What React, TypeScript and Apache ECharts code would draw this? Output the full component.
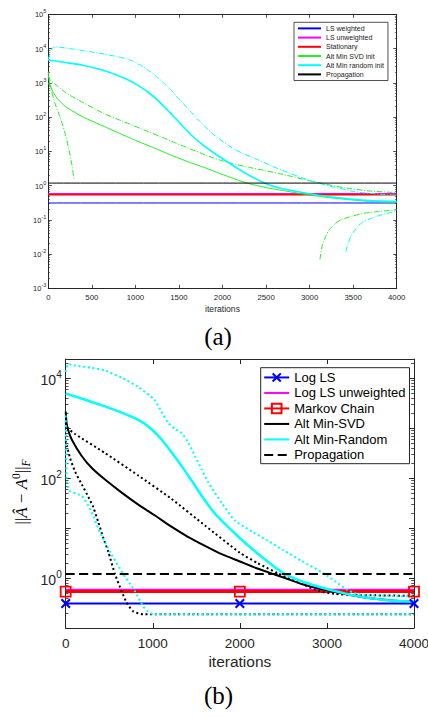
import React, { useEffect, useRef } from 'react';
import * as echarts from 'echarts';

// ---------- chart (a) data: [iteration, error] ----------
const aLsWeighted = [[0, 0.31], [4000, 0.31]];
const aLsUnweighted = [[0, 0.58], [4000, 0.58]];
const aStationary = [[0, 0.535], [4000, 0.535]];
const aPropagation = [[0, 1.18], [4000, 1.18]];
const aSvdSolid = [[0, 2100], [15, 1000], [50, 560], [100, 355], [200, 200], [400, 100], [600, 59], [800, 35], [1000, 21], [1200, 13], [1400, 7.9], [1600, 5.0], [1800, 3.3], [2000, 2.1], [2285, 1.17], [2500, 0.87], [2700, 0.71], [2935, 0.56], [3242, 0.44], [3624, 0.355], [4000, 0.32]];
const aSvdDashDot = [[0, 1600], [20, 1200], [100, 830], [211, 490], [400, 265], [632, 129], [850, 76], [1053, 47], [1270, 28], [1474, 17], [1600, 12.6], [1700, 10], [1800, 7.9], [1902, 6.3], [2000, 5.25], [2100, 4.47], [2300, 3.43], [2500, 2.7], [2700, 2.1], [3000, 1.38], [3200, 1.08], [3400, 0.86], [3700, 0.69], [4000, 0.62]];
const aSvdFast = [[0, 1000], [20, 780], [77, 250], [134, 102], [192, 34], [230, 13.5], [268, 4.5], [296, 1.45]];
const aSvdRise = [[3119, 0.007], [3146, 0.018], [3185, 0.033], [3223, 0.05], [3290, 0.075], [3357, 0.1], [3500, 0.13], [3624, 0.155], [3800, 0.176], [4000, 0.195]];
const aRandSolid = [[0, 4650], [200, 3900], [402, 3250], [600, 2450], [785, 1700], [920, 1200], [1053, 770], [1170, 479], [1282, 269], [1400, 132], [1512, 66], [1630, 32], [1741, 18], [1902, 8.9], [2143, 3.55], [2300, 2.04], [2487, 1.17], [2650, 0.85], [2870, 0.66], [3253, 0.46], [3636, 0.37], [4000, 0.34]];
const aRandDashDot = [[0, 4500], [30, 9000], [77, 11200], [300, 9500], [594, 7250], [800, 5750], [900, 5000], [976, 4270], [1100, 2820], [1244, 1510], [1380, 724], [1512, 316], [1630, 148], [1741, 74], [1902, 30], [2150, 11], [2411, 5.56], [2680, 2.82], [2985, 1.45], [3177, 1.05], [3520, 0.66], [3800, 0.56], [4000, 0.525]];
const aRandRise = [[3415, 0.0117], [3440, 0.02], [3472, 0.032], [3548, 0.063], [3620, 0.088], [3702, 0.11], [3850, 0.145], [4000, 0.18]];

// ---------- chart (b) data ----------
const bLogLs = [[0, 0.31], [2000, 0.31], [4000, 0.31]];
const bLogLsUnweighted = [[0, 0.58], [4000, 0.58]];
const bMarkov = [[0, 0.535], [2000, 0.535], [4000, 0.535]];
const bPropagation = [[0, 1.2], [4000, 1.2]];
const bSvdSolid = [[0, 2140], [10, 1260], [30, 890], [69, 590], [184, 275], [300, 158], [451, 93], [643, 51], [850, 28], [1025, 17.8], [1200, 11], [1408, 6.6], [1600, 4.4], [1791, 3.0], [2000, 2.14], [2200, 1.55], [2384, 1.2], [2550, 0.955], [2710, 0.76], [2900, 0.62], [3093, 0.525], [3300, 0.447], [3475, 0.4], [3750, 0.355], [4000, 0.33]];
const bSvdDotUpper = [[0, 1260], [20, 1000], [107, 760], [451, 316], [834, 112], [1217, 38], [1600, 11.2], [2000, 3.2], [2200, 2.0], [2441, 1.23], [2600, 0.91], [2728, 0.74], [2850, 0.6], [2950, 0.525], [3093, 0.48], [3300, 0.457], [4000, 0.44]];
const bSvdDotLower = [[0, 560], [50, 250], [107, 135], [184, 75], [260, 42], [317, 26], [375, 13], [430, 6.5], [490, 3.3], [566, 1.2], [643, 0.54], [700, 0.32], [776, 0.215], [891, 0.188], [4000, 0.188]];
const bRandSolid = [[0, 4900], [200, 3800], [451, 2700], [650, 2000], [834, 1450], [970, 1000], [1102, 590], [1220, 320], [1332, 173], [1450, 87], [1562, 44], [1680, 23], [1791, 14], [2002, 6.25], [2250, 2.65], [2498, 1.26], [2700, 0.87], [2900, 0.676], [3285, 0.454], [3667, 0.363], [4000, 0.336]];
const bRandDotUpper = [[0, 13200], [30, 19000], [107, 17800], [300, 16000], [451, 14100], [650, 10000], [834, 6600], [1025, 3600], [1100, 2100], [1178, 1260], [1260, 950], [1332, 790], [1410, 500], [1485, 275], [1560, 150], [1638, 81], [1791, 32], [1944, 14], [2150, 8.3], [2327, 5.5], [2500, 3.6], [2710, 2.2], [2966, 1.23], [3100, 0.85], [3234, 0.58], [3350, 0.48], [3475, 0.45], [4000, 0.43]];
const bRandDotLower = [[0, 2000], [6, 300], [14, 80], [49, 55], [184, 44], [260, 28], [320, 17], [375, 9.6], [450, 5.2], [528, 2.9], [600, 1.8], [661, 1.2], [730, 0.8], [796, 0.54], [891, 0.27], [950, 0.21], [1006, 0.188], [4000, 0.188]];

const legendA = ['LS weighted', 'LS unweighted', 'Stationary', 'Alt Min SVD init', 'Alt Min random init', 'Propagation'];
const legendB = ['Log LS', 'Log LS unweighted', 'Markov Chain', 'Alt Min-SVD', 'Alt Min-Random', 'Propagation (b)'];

const AXIS = '#262626';
const SANS = '"Liberation Sans", Arial, Helvetica, sans-serif';
const SERIF = '"Liberation Serif", "Times New Roman", serif';
const BLUE = '#0000ff';
const MAGENTA = '#ff00ff';
const RED = '#ff0000';
const GREEN = '#22ee22';
const CYAN = '#00ffff';
const BLACK = '#000000';

const DASHDOT = [5.5, 1.8, 1, 1.8];
const DOTTED = [2, 2.7];
const DASHED = [9, 4.5];
const X_MARK = 'path://M1.5,0 L5,3.5 L8.5,0 L10,1.5 L6.5,5 L10,8.5 L8.5,10 L5,6.5 L1.5,10 L0,8.5 L3.5,5 L0,1.5 Z';

function decadeFormatter(everyOther: boolean) {
  return (v: number) => {
    const e = Math.log10(v);
    const r = Math.round(e);
    if (Math.abs(e - r) > 1e-6) return '';
    if (everyOther && r % 2 !== 0) return '';
    return `{b|10}{s|${r}}`;
  };
}

function yAxis(grid: number, pos: 'left' | 'right', min: number, max: number, labels: boolean, big: boolean) {
  return {
    type: 'log', logBase: 10, gridIndex: grid, position: pos, min, max,
    axisLine: { show: true, onZero: false, lineStyle: { color: AXIS, width: 1 } },
    axisTick: { show: true, inside: true, length: big ? 5 : 3.5, lineStyle: { color: AXIS, width: big ? 1 : 0.8 } },
    minorTick: { show: true, splitNumber: 9, length: big ? 2.8 : 1.8, lineStyle: { color: AXIS, width: big ? 0.8 : 0.6 } },
    splitLine: { show: false },
    minorSplitLine: { show: false },
    axisLabel: labels
      ? {
          show: true,
          formatter: decadeFormatter(big),
          margin: big ? 4 : 2,
          padding: big ? [4, 0, 0, 0] : [1, 0, 0, 0],
          rich: big
            ? {
                b: { fontSize: 14, fontFamily: SANS, color: AXIS, lineHeight: 22, verticalAlign: 'middle' },
                s: { fontSize: 10, fontFamily: SANS, color: AXIS, lineHeight: 10, verticalAlign: 'top' },
              }
            : {
                b: { fontSize: 7.5, fontFamily: SANS, color: AXIS, lineHeight: 13, verticalAlign: 'middle' },
                s: { fontSize: 5.5, fontFamily: SANS, color: AXIS, lineHeight: 6, verticalAlign: 'top' },
              },
        }
      : { show: false },
  };
}

function xAxis(grid: number, pos: 'top' | 'bottom', interval: number, labels: boolean, big: boolean) {
  return {
    type: 'value', gridIndex: grid, position: pos, min: 0, max: 4000, interval,
    axisLine: { show: true, onZero: false, lineStyle: { color: AXIS, width: 1 } },
    axisTick: { show: true, inside: true, length: big ? 5 : 3.5, lineStyle: { color: AXIS, width: big ? 1 : 0.8 } },
    splitLine: { show: false },
    axisLabel: labels
      ? { show: true, formatter: (v: number) => String(v), fontSize: big ? 13.5 : 7.8, fontFamily: SANS, color: AXIS, margin: big ? 8 : 5 }
      : { show: false },
    name: labels ? 'iterations' : '',
    nameLocation: 'middle',
    nameGap: big ? 25 : 16,
    nameTextStyle: { fontSize: big ? 15.5 : 8.6, fontFamily: SANS, color: AXIS },
  };
}

function line(name: string, data: number[][], color: string, width: number, type: any, idx: number, extra: any = {}) {
  return {
    type: 'line', name, data, xAxisIndex: idx, yAxisIndex: idx,
    symbol: 'none', showSymbol: false, smooth: 0.2,
    lineStyle: { color, width, type, cap: 'butt' },
    itemStyle: { color },
    emphasis: { disabled: true },
    silent: true,
    ...extra,
  };
}

function buildOption() {
  const series = [
    // (a)
    line('LS weighted', aLsWeighted, BLUE, 1, 'solid', 0),
    line('LS unweighted', aLsUnweighted, MAGENTA, 1.5, 'solid', 0),
    line('Stationary', aStationary, RED, 1.5, 'solid', 0),
    line('Alt Min SVD init', aSvdSolid, GREEN, 1, 'solid', 0),
    line('Alt Min SVD init (slow)', aSvdDashDot, GREEN, 1, DASHDOT, 0),
    line('Alt Min SVD init (fast)', aSvdFast, GREEN, 1, DASHDOT, 0),
    line('Alt Min SVD init (rise)', aSvdRise, GREEN, 1, DASHDOT, 0),
    line('Alt Min random init', aRandSolid, CYAN, 1.6, 'solid', 0),
    line('Alt Min random init (dash)', aRandDashDot, CYAN, 1, DASHDOT, 0),
    line('Alt Min random init (rise)', aRandRise, CYAN, 1, DASHDOT, 0),
    line('Propagation', aPropagation, BLACK, 1, 'solid', 0),
    // (b)
    line('Log LS', bLogLs, BLUE, 2, 'solid', 2, {
      symbol: X_MARK, showSymbol: true, symbolSize: 10,
      itemStyle: { color: BLUE },
    }),
    line('Log LS unweighted', bLogLsUnweighted, MAGENTA, 2, 'solid', 2),
    line('Markov Chain', bMarkov, RED, 3, 'solid', 2, {
      symbol: 'rect', showSymbol: true, symbolSize: 10,
      itemStyle: { color: 'rgba(255,255,255,0)', borderColor: RED, borderWidth: 1.8 },
    }),
    line('Alt Min-SVD', bSvdSolid, BLACK, 2, 'solid', 2),
    line('Alt Min-SVD (dot upper)', bSvdDotUpper, BLACK, 2, DOTTED, 2),
    line('Alt Min-SVD (dot lower)', bSvdDotLower, BLACK, 2, DOTTED, 2),
    line('Alt Min-Random', bRandSolid, CYAN, 2.5, 'solid', 2),
    line('Alt Min-Random (dot upper)', bRandDotUpper, CYAN, 2, DOTTED, 2),
    line('Alt Min-Random (dot lower)', bRandDotLower, CYAN, 2, DOTTED, 2, { lineStyle: { color: CYAN, width: 2, type: DOTTED, cap: 'butt', dashOffset: 2.3 } }),
    line('Propagation (b)', bPropagation, BLACK, 2, DASHED, 2),
  ];

  const noSymbolA = legendA.map((n) => ({ name: n, itemStyle: { opacity: 0 } }));
  const dataB = legendB.map((n) =>
    n === 'Log LS' || n === 'Markov Chain' ? { name: n } : { name: n, itemStyle: { opacity: 0 } }
  );

  return {
    animation: false,
    backgroundColor: '#ffffff',
    grid: [
      { left: 48.3, top: 14.3, width: 348.4, height: 274, containLabel: false, outerBoundsMode: 'none' },
      { left: 65.7, top: 359, width: 348.3, height: 269, containLabel: false, outerBoundsMode: 'none' },
    ],
    xAxis: [
      xAxis(0, 'bottom', 500, true, false),
      xAxis(0, 'top', 500, false, false),
      xAxis(1, 'bottom', 1000, true, true),
      xAxis(1, 'top', 1000, false, true),
    ],
    yAxis: [
      yAxis(0, 'left', 1e-3, 1e5, true, false),
      yAxis(0, 'right', 1e-3, 1e5, false, false),
      yAxis(1, 'left', 0.1, 24000, true, true),
      yAxis(1, 'right', 0.1, 24000, false, true),
    ],
    legend: [
      {
        data: noSymbolA,
        orient: 'vertical', left: 294, top: 22.3,
        itemWidth: 23, itemHeight: 8, itemGap: 0,
        padding: [1.5, 4, 1.5, 3],
        borderColor: AXIS, borderWidth: 0.8, backgroundColor: '#ffffff',
        selectedMode: false,
        textStyle: { fontSize: 7, lineHeight: 9.2, fontFamily: SANS, color: '#1a1a1a' },
      },
      {
        data: dataB,
        orient: 'vertical', left: 260.7, top: 367.7,
        itemWidth: 25, itemHeight: 12, itemGap: 0,
        padding: [2, 4, 1, 2.5],
        borderColor: AXIS, borderWidth: 1, backgroundColor: '#ffffff',
        selectedMode: false,
        formatter: (n: string) => (n === 'Propagation (b)' ? 'Propagation' : n),
        textStyle: { fontSize: 13, lineHeight: 15.5, fontFamily: SANS, color: '#000000' },
      },
    ],
    graphic: [
      {
        type: 'text', x: 218, y: 336, silent: true,
        style: { text: '(a)', fontSize: 25, fontFamily: SERIF, fill: '#000', align: 'center', verticalAlign: 'middle', textAlign: 'center', textVerticalAlign: 'middle' },
      },
      {
        type: 'text', x: 218.5, y: 695, silent: true,
        style: { text: '(b)', fontSize: 25, fontFamily: SERIF, fill: '#000', align: 'center', verticalAlign: 'middle', textAlign: 'center', textVerticalAlign: 'middle' },
      },
      {
        type: 'text', x: 21, y: 492, rotation: Math.PI / 2, silent: true,
        style: {
          text: '{r|||}{i|Â}{r| − }{i|A}{p|0}{r|||}{q|F}',
          align: 'center', verticalAlign: 'middle', textAlign: 'center', textVerticalAlign: 'middle',
          rich: {
            r: { fontFamily: SERIF, fontSize: 17, lineHeight: 22, verticalAlign: 'middle', fill: '#000' },
            i: { fontFamily: SERIF, fontStyle: 'italic', fontSize: 17, lineHeight: 22, verticalAlign: 'middle', fill: '#000' },
            p: { fontFamily: SERIF, fontSize: 11.5, lineHeight: 12, verticalAlign: 'top', fill: '#000' },
            q: { fontFamily: SERIF, fontStyle: 'italic', fontSize: 11.5, lineHeight: 12, verticalAlign: 'bottom', fill: '#000' },
          },
        },
      },
    ],
    series,
  };
}

export default function App() {
  const ref = useRef<HTMLDivElement>(null);
  useEffect(() => {
    const chart = echarts.init(ref.current as HTMLDivElement, null, { renderer: 'svg' });
    chart.setOption(buildOption() as any);
    return () => chart.dispose();
  }, []);
  return (
    <div
      ref={ref}
      style={{ position: 'absolute', left: 0, top: 0, width: 428, height: 717, background: '#ffffff' }}
    />
  );
}
